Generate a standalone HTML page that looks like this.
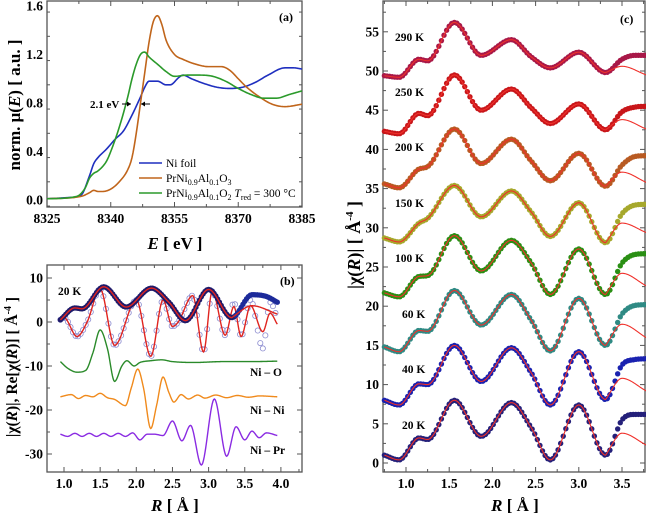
<!DOCTYPE html>
<html><head><meta charset="utf-8"><style>
html,body{margin:0;padding:0;background:#fff;}
svg{display:block;font-family:"Liberation Serif",serif;}
</style></head><body>
<svg id="fig" width="646" height="521" viewBox="0 0 646 521" xmlns="http://www.w3.org/2000/svg"></svg>
<script>
// ---------- Panel (a) data: XANES ----------
const aNiE=[8325,8330,8333,8335,8336,8337,8339,8341,8343,8345,8347,8348,8349,8351,8353,8354,8356,8357,8359,8362,8365,8368,8371,8374,8377,8381,8383,8385];
const aNiMu=[0.01,0.02,0.04,0.2,0.3,0.35,0.42,0.5,0.57,0.7,0.85,0.93,0.98,0.98,0.95,0.95,1.01,1.03,1.0,0.96,0.93,0.92,0.93,0.97,1.03,1.09,1.09,1.08];
const aO3E=[8325,8333,8335,8336,8337,8338,8340,8342,8344,8345,8346,8347,8348,8349,8350,8351,8352,8353,8355,8357,8360,8363,8366,8368,8370,8372,8375,8378,8381,8385];
const aO3Mu=[0.01,0.03,0.06,0.08,0.07,0.07,0.09,0.15,0.25,0.35,0.55,0.8,1.05,1.3,1.47,1.52,1.45,1.32,1.2,1.16,1.12,1.1,1.1,1.07,1.0,0.93,0.85,0.79,0.77,0.79];
const aO2E=[8325,8332,8334,8335,8336,8337,8339,8340,8342,8344,8345,8346,8347,8348,8349,8351,8353,8355,8358,8361,8364,8367,8370,8373,8376,8379,8382,8385];
const aO2Mu=[0.01,0.03,0.1,0.18,0.22,0.24,0.32,0.4,0.6,0.85,1.0,1.12,1.2,1.22,1.18,1.12,1.06,1.02,1.03,1.03,1.02,0.98,0.92,0.87,0.84,0.84,0.87,0.9];
const aXTicks=[8325,8340,8355,8370,8385];
const aYTicks=[0.0,0.4,0.8,1.2,1.6];

// ---------- Panel (b) data: 20 K fit ----------
const bMagR=[0.95,1.15,1.25,1.55,1.86,2.21,2.45,2.68,3.0,3.32,3.6,3.8,3.95];
const bMagData=[0.5,3.2,3.0,8.0,3.4,7.7,4.5,0.3,7.4,1.0,6.2,5.8,4.5];
const bMagFitR=[3.32,3.6,3.95];
const bMagFit=[1.0,3.7,1.8];
const bReR=[0.95,1.0,1.18,1.32,1.5,1.7,2.0,2.2,2.37,2.5,2.58,2.78,2.93,3.05,3.23,3.35,3.45,3.58,3.75,3.85,3.95];
const bReFit=[0.5,1.0,-3.3,0.0,7.5,-5.3,5.0,-7.8,5.0,-1.0,0.0,6.0,-6.8,7.0,-3.0,3.5,-3.3,3.7,-2.2,2.0,-0.5];
const bReData=[0.5,1.0,-3.3,0.0,7.5,-5.3,5.0,-7.8,5.0,-1.0,0.0,6.0,-6.8,7.0,-3.0,4.5,-3.3,5.0,-6.0,4.5,1.0];
const bNiOR=[0.95,1.05,1.18,1.3,1.4,1.5,1.6,1.7,1.8,1.87,1.97,2.05,2.2,2.35,2.5,2.8,3.2,3.6,3.95];
const bNiO=[-9,-10.5,-11.4,-11,-7,-1.8,-6,-13.5,-10,-8.8,-10,-9.2,-8.8,-8.6,-9,-9.2,-9,-9,-8.9];
const bNiNiR=[0.95,1.1,1.2,1.3,1.4,1.5,1.6,1.7,1.85,1.93,2.02,2.1,2.2,2.28,2.37,2.45,2.52,2.62,2.72,2.85,2.95,3.1,3.25,3.4,3.55,3.7,3.95];
const bNiNi=[-17,-16.5,-17.4,-16.7,-17,-16.2,-17.2,-17.6,-19,-15,-10.7,-15,-24.2,-19,-12.5,-16,-18.2,-16.5,-17.5,-16.6,-17.3,-16.6,-17.2,-16.7,-17.1,-16.8,-17];
const bNiPrR=[0.95,1.05,1.15,1.25,1.35,1.45,1.55,1.65,1.75,1.85,1.95,2.05,2.15,2.25,2.37,2.5,2.63,2.75,2.9,3.08,3.25,3.38,3.5,3.6,3.7,3.8,3.95];
const bNiPr=[-25.5,-26,-25.3,-26,-25.3,-26,-25.3,-26,-25.3,-26,-25.2,-26.8,-25.5,-25.5,-25.8,-22.5,-27,-23.5,-32.5,-17.5,-30.5,-23.8,-26.8,-24.8,-26.3,-25.2,-25.8];
const bXTicks=[1.0,1.5,2.0,2.5,3.0,3.5,4.0];
const bYTicks=[10,0,-10,-20,-30];

// ---------- Panel (c) data: |chi(R)| vs temperature ----------
const cTemps=["20 K","40 K","60 K","100 K","150 K","200 K","250 K","290 K"];
const cR=[0.75,0.92,1.15,1.25,1.56,1.87,2.22,2.45,2.67,3.0,3.31,3.5,3.65,3.78];
const c20=[1.0,0.4,3.2,3.0,8.0,3.4,7.7,4.5,0.4,7.4,1.0,5.5,6.2,6.2];
const c40=[8.0,7.4,10.1,10.0,15.0,10.4,14.7,11.5,7.4,14.2,8.1,12.5,13.2,13.3];
const c60=[14.8,14.2,16.9,16.8,22.0,17.6,21.5,18.2,14.3,21.0,15.0,19.0,20.1,20.2];
const c100=[21.7,21.2,23.8,23.9,29.0,24.5,28.4,25.5,21.5,27.3,21.5,25.5,26.6,26.7];
const c150=[28.7,28.2,30.6,31.2,35.4,31.4,34.7,32.0,28.9,33.2,28.1,31.8,32.9,33.0];
const c200=[35.6,35.1,37.5,37.8,42.6,38.2,41.3,38.5,36.0,39.5,35.3,38.0,39.1,39.2];
const c250=[42.3,42.0,44.6,44.3,49.5,45.0,47.7,45.3,43.3,45.8,42.5,44.8,45.4,45.5];
const c290=[49.4,49.2,51.5,51.3,56.2,52.0,54.0,51.8,50.4,52.4,49.8,51.5,52.0,52.0];
const cFitR=[3.31,3.5,3.78];
const cFit20=[1.0,3.8,2.3];
const cFit40=[8.1,10.8,9.2];
const cFit60=[15.0,17.7,16.0];
const cFit100=[21.5,24.2,22.6];
const cFit150=[28.1,30.6,29.4];
const cFit200=[35.3,37.1,35.8];
const cFit250=[42.5,43.8,42.6];
const cFit290=[49.8,50.6,49.5];
const cXTicks=[1.0,1.5,2.0,2.5,3.0,3.5];
const cYTicks=[0,5,10,15,20,25,30,35,40,45,50,55];

const NS="http://www.w3.org/2000/svg";
const svg=document.getElementById('fig');
function el(tag,attrs,parent){const e=document.createElementNS(NS,tag);for(const k in attrs)e.setAttribute(k,attrs[k]);(parent||svg).appendChild(e);return e;}

function mono(xs,ys){
  const n=xs.length,d=[],m=new Array(n);
  for(let i=0;i<n-1;i++)d.push((ys[i+1]-ys[i])/(xs[i+1]-xs[i]));
  m[0]=d[0];m[n-1]=d[n-2];
  for(let i=1;i<n-1;i++){m[i]=(d[i-1]*d[i]<=0)?0:(d[i-1]+d[i])/2;}
  for(let i=0;i<n-1;i++){if(d[i]===0){m[i]=0;m[i+1]=0;continue;}const a=m[i]/d[i],b=m[i+1]/d[i],s=a*a+b*b;if(s>9){const t=3/Math.sqrt(s);m[i]=t*a*d[i];m[i+1]=t*b*d[i];}}
  return function(x){let i=0;while(i<n-2&&x>xs[i+1])i++;const h=xs[i+1]-xs[i],t=(x-xs[i])/h,t2=t*t,t3=t2*t;
    return (2*t3-3*t2+1)*ys[i]+(t3-2*t2+t)*h*m[i]+(-2*t3+3*t2)*ys[i+1]+(t3-t2)*h*m[i+1];};
}
function pathFrom(xs,ys,sx,sy,step){const f=mono(xs,ys);let d='';const x0=xs[0],x1=xs[xs.length-1];
  for(let x=x0;x<=x1+1e-9;x+=step){d+=(d?'L':'M')+sx(x).toFixed(2)+','+sy(f(x)).toFixed(2);}return d;}

function axes(g,L,T,R,B,sx,sy,xt,yt,xminor,yminor,xfmt,yfmt,xr,yr){
  const fr=el('rect',{x:L,y:T,width:R-L,height:B-T,fill:'none',stroke:'#555',"stroke-width":1.3},g);
  
  
  for(let v=xr[0];v<=xr[1]+1e-9;v+=xminor){const X=sx(v);if(X<L||X>R)continue;const maj=xt.some(t=>Math.abs(t-v)<1e-6);const len=maj?5:3;
    el('line',{x1:X,y1:B,x2:X,y2:B-len,stroke:'#555'},g);el('line',{x1:X,y1:T,x2:X,y2:T+len,stroke:'#555'},g);}
  for(let v=yr[0];v<=yr[1]+1e-9;v+=yminor){const Y=sy(v);if(Y<T||Y>B)continue;const maj=yt.some(t=>Math.abs(t-v)<1e-6);const len=maj?5:3;
    el('line',{x1:L,y1:Y,x2:L+len,y2:Y,stroke:'#555'},g);el('line',{x1:R,y1:Y,x2:R-len,y2:Y,stroke:'#555'},g);}
  xt.forEach(v=>{const t=el('text',{x:sx(v),y:B+16,"text-anchor":"middle","font-size":13.5,"font-weight":"bold"},g);t.textContent=xfmt(v);
    
    });
  yt.forEach(v=>{const t=el('text',{x:L-4,y:sy(v)+4.5,"text-anchor":"end","font-size":13.5,"font-weight":"bold"},g);t.textContent=yfmt(v);
    
    });
}
function txt(g,x,y,s,size,name,extra){const t=el('text',Object.assign({x:x,y:y,"font-size":size,"font-weight":"bold"},extra||{}),g);t.innerHTML=s;
  
  return t;}

// ================= Panel (a) =================
const ga=el('g',{});


const aL=47,aT=1,aR=302,aB=207;
const ax=e=>aL+(e-8325)*(aR-aL)/60;
const ay=v=>200-v*121.25;
axes(ga,aL,aT,aR,aB,ax,ay,aXTicks,aYTicks,7.5,0.2,v=>String(v),v=>v.toFixed(1),[8325,8385],[-0.05,1.65]);
[[aNiE,aNiMu,'#1f2fbf','ni-foil-line'],[aO3E,aO3Mu,'#c0651b','prnialo3-line'],[aO2E,aO2Mu,'#2b9a2b','prnialo2-line']].forEach(s=>{
  const p=el('path',{d:pathFrom(s[0],s[1],ax,ay,0.25),fill:'none',stroke:s[2],"stroke-width":1.6},ga);
  
  
});
txt(ga,279,21,'(a)',12,'panel-a-label');
txt(ga,90,108,'2.1 eV',11,'edge-shift-label');
el('line',{x1:122,y1:104,x2:131,y2:104,stroke:'#000'},ga);el('path',{d:'M131,104 l-4,-2.5 v5z'},ga);
el('line',{x1:141,y1:104,x2:150,y2:104,stroke:'#000'},ga);el('path',{d:'M141,104 l4,-2.5 v5z'},ga);
const leg=[['#1f2fbf','Ni foil',163],['#c0651b','PrNi<tspan font-size="8" dy="3">0.9</tspan><tspan dy="-3">Al</tspan><tspan font-size="8" dy="3">0.1</tspan><tspan dy="-3">O</tspan><tspan font-size="8" dy="3">3</tspan>',178],
 ['#2b9a2b','PrNi<tspan font-size="8" dy="3">0.9</tspan><tspan dy="-3">Al</tspan><tspan font-size="8" dy="3">0.1</tspan><tspan dy="-3">O</tspan><tspan font-size="8" dy="3">2</tspan><tspan dy="-3">  </tspan><tspan font-style="italic">T</tspan><tspan font-size="8" dy="3">red</tspan><tspan dy="-3"> = 300 °C</tspan>',193]];
leg.forEach(l=>{const ln=el('line',{x1:139,y1:l[2],x2:162,y2:l[2],stroke:l[0],"stroke-width":1.6},ga);
  
  
  txt(ga,166,l[2]+4,l[1],11.5,'legend-entry',{"font-weight":"normal"});});
txt(ga,14,105,'norm. μ(<tspan font-style="italic">E</tspan>)  [ a.u. ]',17,'y-axis-title-a',{"text-anchor":"middle",transform:'rotate(-90 14 105)',dy:6});
txt(ga,175,249,'<tspan font-style="italic">E</tspan>  [ eV ]',17,'x-axis-title-a',{"text-anchor":"middle"});

// ================= Panel (b) =================
const gb=el('g',{});


const bL=47,bT=265,bR=302,bB=472;
const bx=r=>64+(r-1)*72.3;
const by=v=>278-(v-10)*4.4;
axes(gb,bL,bT,bR,bB,bx,by,bXTicks,bYTicks,0.25,5,v=>v.toFixed(1),v=>String(v),[0.75,4.25],[-35,12]);
{const f=mono(bReR,bReData);for(let r=0.95;r<=3.95;r+=0.035){const c=el('circle',{cx:bx(r),cy:by(f(r)),r:2.6,fill:'none',stroke:'#8c8cd0',"stroke-width":0.8},gb);
  
  }}
{const p=el('path',{d:pathFrom(bReR,bReFit,bx,by,0.01),fill:'none',stroke:'#e0241f',"stroke-width":1.4},gb);
 
 }
{const f=mono(bMagR,bMagData);for(let r=0.95;r<=3.95;r+=0.025){const col=r>3.35?'#1c2a9a':'#1e1a6a';const c=el('circle',{cx:bx(r),cy:by(f(r)),r:2.7,fill:col},gb);
  
  }}
{const f=mono(bMagR,bMagData),g2=mono(bMagFitR,bMagFit);let d='';for(let r=0.95;r<=3.95;r+=0.01){const v=r<3.32?f(r):g2(r);d+=(d?'L':'M')+bx(r).toFixed(2)+','+by(v).toFixed(2);}
 const p=el('path',{d:d,fill:'none',stroke:'#e0241f',"stroke-width":1.4},gb);
 
 }
[[bNiOR,bNiO,'#2a8a2a','ni-o-path'],[bNiNiR,bNiNi,'#f08a1c','ni-ni-path'],[bNiPrR,bNiPr,'#8a2be2','ni-pr-path']].forEach(s=>{
  const p=el('path',{d:pathFrom(s[0],s[1],bx,by,0.01),fill:'none',stroke:s[2],"stroke-width":1.4},gb);
  
  });
txt(gb,58,295,'20 K',11.5,'temperature-label-b');
txt(gb,280,285,'(b)',12,'panel-b-label');
txt(gb,250,376,'Ni – O',11.5,'ni-o-label');
txt(gb,250,414,'Ni – Ni',11.5,'ni-ni-label');
txt(gb,250,454,'Ni – Pr',11.5,'ni-pr-label');
txt(gb,11,367,'|χ(<tspan font-style="italic">R</tspan>)|, Re[χ(<tspan font-style="italic">R</tspan>)]  [ Å<tspan font-size="10" dy="-6">-4</tspan><tspan dy="6"> ]</tspan>',15.5,'y-axis-title-b',{"text-anchor":"middle",transform:'rotate(-90 11 367)',dy:6});
txt(gb,175,511,'<tspan font-style="italic">R</tspan>  [ Å ]',17,'x-axis-title-b',{"text-anchor":"middle"});

// ================= Panel (c) =================
const gc=el('g',{});


const cL=383,cT=1,cRt=645,cB=472;
const cx=r=>406+(r-1)*86.4;
const cy=v=>463-v*7.84;
axes(gc,cL,cT,cRt,cB,cx,cy,cXTicks,cYTicks,0.25,2.5,v=>v.toFixed(1),v=>String(v),[0.75,3.8],[0,60]);
const cSeries=[c20,c40,c60,c100,c150,c200,c250,c290];
const cFits=[cFit20,cFit40,cFit60,cFit100,cFit150,cFit200,cFit250,cFit290];
const cCols=['#24207a','#1a22b0','#2f8a84','#2a8f14','#a6a82c','#b85a22','#c8161a','#a81848'];
const cLabelX=[402,402,402,395,395,395,395,395];
const cLabelY=[429,373,318,262,207,151,96,41];
cSeries.forEach((vals,i)=>{
  const f=mono(cR,vals),g2=mono(cFitR,cFits[i]);
  for(let r=0.75;r<=3.78;r+=0.03){const c=el('circle',{cx:cx(r),cy:cy(f(r)),r:2.7,fill:cCols[i]},gc);
    
    }
  let d='';for(let r=0.75;r<=3.78;r+=0.01){const v=r<3.31?f(r):g2(r);d+=(d?'L':'M')+cx(r).toFixed(2)+','+cy(v).toFixed(2);}
  const p=el('path',{d:d,fill:'none',stroke:'#f0302a',"stroke-width":1.1},gc);
  
  
  txt(gc,cLabelX[i],cLabelY[i],cTemps[i],11.5,'temperature-label');
});
txt(gc,620,23,'(c)',12,'panel-c-label');
txt(gc,354,245,'|χ(<tspan font-style="italic">R</tspan>)|  [ Å<tspan font-size="11" dy="-7">-4</tspan><tspan dy="7"> ]</tspan>',18,'y-axis-title-c',{"text-anchor":"middle",transform:'rotate(-90 354 245)',dy:6});
txt(gc,515,511,'<tspan font-style="italic">R</tspan>  [ Å ]',17,'x-axis-title-c',{"text-anchor":"middle"});
</script>
</body></html>
